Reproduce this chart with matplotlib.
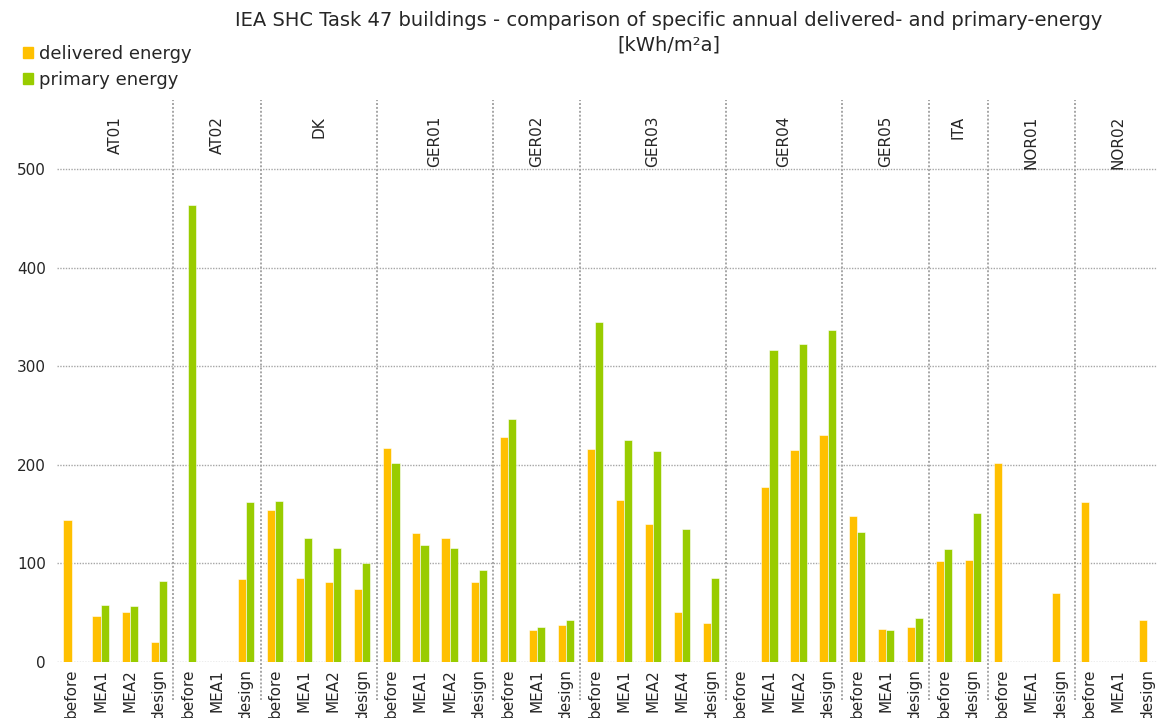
import numpy as np
import matplotlib
matplotlib.use("Agg")
import matplotlib.pyplot as plt
from matplotlib.patches import Patch

plt.rcParams["font.family"] = ["DejaVu Sans"]

nan = np.nan

groups = ["AT01", "AT02", "DK", "GER01", "GER02", "GER03", "GER04", "GER05", "ITA", "NOR01", "NOR02"]
group_cats = [
    ["before", "MEA1", "MEA2", "design"],
    ["before", "MEA1", "design"],
    ["before", "MEA1", "MEA2", "design"],
    ["before", "MEA1", "MEA2", "design"],
    ["before", "MEA1", "design"],
    ["before", "MEA1", "MEA2", "MEA4", "design"],
    ["before", "MEA1", "MEA2", "design"],
    ["before", "MEA1", "design"],
    ["before", "design"],
    ["before", "MEA1", "design"],
    ["before", "MEA1", "design"],
]
delivered = [
    144, 47, 51, 20,
    nan, nan, 84,
    154, 85, 81, 74,
    217, 131, 126, 81,
    228, 32, 38,
    216, 164, 140, 51, 40,
    nan, 177, 215, 230,
    148, 33, 36,
    102, 103,
    202, nan, 70,
    162, nan, 43,
]
primary = [
    nan, 58, 57, 82,
    463, nan, 162,
    163, 126, 116, 100,
    202, 119, 116, 93,
    246, 36, 43,
    345, 225, 214, 135, 85,
    nan, 316, 323, 337,
    132, 32, 45,
    115, 151,
    nan, nan, nan,
    nan, nan, nan,
]

c_del = "#FFC000"
c_pri = "#99CC00"
grid_c = "#A6A6A6"
txt_c = "#262626"

W, H = 1157, 718
fig = plt.figure(figsize=(W / 100, H / 100), dpi=100)
left_px, right_px, top_px, bot_px = 57, 1162, 100, 662
ax = fig.add_axes([left_px / W, 1 - bot_px / H, (right_px - left_px) / W, (bot_px - top_px) / H])

labels = [c for g in group_cats for c in g]
n = len(labels)
x = np.arange(n)
bw = 0.28
ax.bar(x - bw / 2, delivered, bw, color=c_del, edgecolor="white", linewidth=0.4, zorder=3)
ax.bar(x + bw / 2, primary, bw, color=c_pri, edgecolor="white", linewidth=0.4, zorder=3)

ymax = (bot_px - top_px) / 0.986
ax.set_ylim(0, ymax)
ax.set_xlim(-0.5, n - 0.5)

for v in [0, 100, 200, 300, 400, 500]:
    ax.axhline(v, color=grid_c, linestyle=(0, (1, 1)), linewidth=1.0, zorder=1)

ax.set_yticks([0, 100, 200, 300, 400, 500])
ax.set_yticklabels(["0", "100", "200", "300", "400", "500"], fontsize=11, color=txt_c)
ax.set_xticks(x)
ax.set_xticklabels(labels, rotation=90, fontsize=11, color=txt_c)
ax.tick_params(length=0, pad=8)
ax.tick_params(axis="x", pad=5)
for s in ax.spines.values():
    s.set_visible(False)

# group separators and labels
start = 0
ext = -38 / (bot_px - top_px)
for gi, (g, cats) in enumerate(zip(groups, group_cats)):
    end = start + len(cats)
    if gi > 0:
        ax.axvline(start - 0.5, ymin=ext, ymax=1, color=grid_c, linestyle=(0, (1, 1)),
                   linewidth=1.4, clip_on=False, zorder=2)
    ax.text((start + end - 1) / 2, ymax - 16, g, rotation=90, ha="center", va="top",
            fontsize=11, color=txt_c)
    start = end

fig.text(0.578, 0.985, "IEA SHC Task 47 buildings - comparison of specific annual delivered- and primary-energy\n[kWh/m²a]",
         ha="center", va="top", fontsize=14, color=txt_c, multialignment="center", linespacing=1.4)

handles = [Patch(color=c_del, label="delivered energy"), Patch(color=c_pri, label="primary energy")]
fig.legend(handles=handles, loc="upper left", bbox_to_anchor=(0.02, 0.938), frameon=False,
           fontsize=13, handlelength=0.55, handleheight=0.55, handletextpad=0.35, labelspacing=0.45,
           labelcolor=txt_c, borderaxespad=0, borderpad=0)

fig.savefig("out.png", dpi=100)
